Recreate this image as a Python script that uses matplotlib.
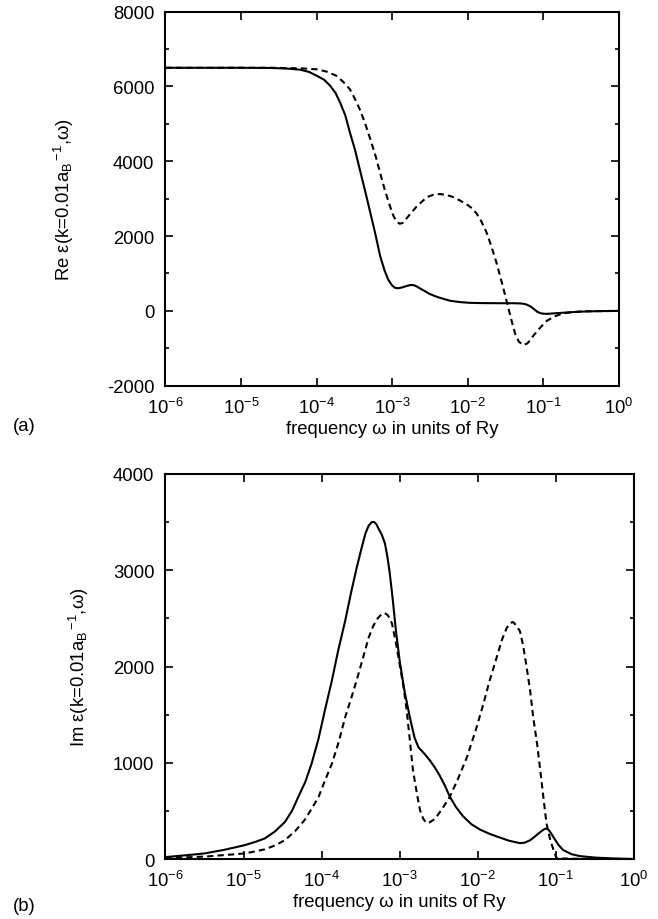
import numpy as np
import matplotlib.pyplot as plt
from matplotlib.ticker import MultipleLocator, LogLocator, NullLocator

plt.rcParams["font.family"] = ["Liberation Sans", "DejaVu Sans"]
plt.rcParams["mathtext.fontset"] = "custom"
plt.rcParams["mathtext.rm"] = "Liberation Sans"
plt.rcParams["mathtext.it"] = "Liberation Sans:italic"
plt.rcParams["axes.unicode_minus"] = False

FS = 13.3

# (a) real part: log10 of frequency (Ry) and Re eps
re_solid_logw = [-6.0, -5.0, -4.6, -4.4, -4.22, -4.1, -4.0, -3.9, -3.82, -3.75,
                 -3.69, -3.62, -3.56, -3.49, -3.43, -3.36, -3.29, -3.22, -3.16, -3.10,
                 -3.05, -3.00, -2.96, -2.92, -2.87, -2.81, -2.76, -2.72, -2.68, -2.63,
                 -2.56, -2.50, -2.40, -2.30, -2.23, -2.10, -1.97, -1.80, -1.60, -1.40,
                 -1.31, -1.26, -1.22, -1.17, -1.13, -1.08, -1.04, -1.00, -0.95, -0.85,
                 -0.74, -0.64, -0.5, -0.3, 0.0]
re_solid = [6500, 6500, 6495, 6480, 6450, 6390, 6290, 6180, 6020, 5830,
            5580, 5230, 4780, 4300, 3800, 3230, 2640, 2040, 1480, 1080,
            830, 680, 615, 605, 625, 665, 690, 690, 660, 600,
            520, 450, 370, 310, 270, 235, 215, 208, 205, 205,
            200, 190, 170, 120, 60, -20, -60, -75, -80, -65,
            -50, -37, -20, -8, 0]

re_dash_logw = [-6.0, -5.0, -4.6, -4.2, -4.0, -3.87, -3.74, -3.65, -3.56, -3.50,
                -3.43, -3.36, -3.29, -3.22, -3.16, -3.10, -3.03, -2.98, -2.94, -2.90,
                -2.86, -2.83, -2.76, -2.68, -2.60, -2.54, -2.46, -2.37, -2.28, -2.20,
                -2.10, -2.00, -1.94, -1.88, -1.82, -1.75, -1.69, -1.62, -1.55, -1.48,
                -1.42, -1.37, -1.32, -1.26, -1.21, -1.17, -1.13, -1.04, -0.95, -0.84,
                -0.73, -0.6, -0.42, 0.0]
re_dash = [6500, 6500, 6500, 6485, 6460, 6400, 6290, 6130, 5930, 5700,
           5400, 5030, 4600, 4150, 3700, 3260, 2810, 2530, 2390, 2330,
           2350, 2420, 2590, 2780, 2930, 3040, 3100, 3125, 3100, 3050,
           2950, 2830, 2740, 2600, 2400, 2100, 1750, 1300, 780, 230,
           -250, -620, -830, -912, -870, -780, -663, -450, -262, -140,
           -64, -30, -10, 0]

# (b) imaginary part
im_solid_logw = [-6.0, -5.75, -5.5, -5.25, -4.98, -4.85, -4.73, -4.60, -4.47, -4.38,
                 -4.30, -4.21, -4.13, -4.04, -3.96, -3.87, -3.79, -3.70, -3.62, -3.55,
                 -3.49, -3.44, -3.40, -3.36, -3.33, -3.30, -3.27, -3.23, -3.19, -3.16,
                 -3.13, -3.09, -3.05, -3.00, -2.94, -2.87, -2.81, -2.76, -2.74, -2.68,
                 -2.61, -2.55, -2.49, -2.42, -2.36, -2.28, -2.19, -2.08, -1.97, -1.86,
                 -1.76, -1.60, -1.46, -1.40, -1.33, -1.26, -1.20, -1.15, -1.12, -1.09,
                 -1.06, -1.03, -0.97, -0.91, -0.80, -0.69, -0.5, -0.27, 0.0]
im_solid = [20, 38, 58, 95, 145, 178, 213, 285, 385, 500,
            644, 800, 988, 1250, 1540, 1850, 2160, 2470, 2780, 3030,
            3226, 3380, 3460, 3500, 3502, 3480, 3430, 3370, 3280, 3150,
            2985, 2700, 2380, 2055, 1750, 1470, 1260, 1160, 1143, 1090,
            1020, 950, 870, 760, 650, 540, 445, 360, 305, 265,
            235, 190, 165, 170, 195, 240, 280, 310, 318, 300,
            265, 225, 150, 95, 50, 30, 15, 6, 0]

im_dash_logw = [-6.0, -5.5, -4.98, -4.73, -4.60, -4.47, -4.34, -4.22, -4.13, -4.04,
                -3.96, -3.87, -3.78, -3.70, -3.61, -3.53, -3.46, -3.40, -3.34, -3.28,
                -3.23, -3.19, -3.15, -3.10, -3.05, -3.00, -2.95, -2.91, -2.87, -2.83,
                -2.78, -2.74, -2.70, -2.66, -2.62, -2.57, -2.53, -2.45, -2.36, -2.25,
                -2.14, -2.03, -1.93, -1.85, -1.76, -1.69, -1.63, -1.59, -1.55, -1.51,
                -1.46, -1.42, -1.38, -1.33, -1.29, -1.24, -1.20, -1.16, -1.12, -1.07,
                -1.03, -0.99, -0.5, 0.0]
im_dash = [10, 25, 58, 100, 140, 196, 290, 403, 520, 644,
           810, 988, 1220, 1470, 1700, 1918, 2120, 2296, 2420, 2503,
           2545, 2555, 2530, 2450, 2250, 2020, 1780, 1540, 1230, 920,
           680, 506, 420, 375, 380, 405, 437, 530, 644, 840,
           1057, 1330, 1607, 1850, 2090, 2280, 2400, 2450, 2462, 2430,
           2366, 2220, 2020, 1750, 1470, 1190, 920, 640, 368, 190,
           93, 6, 0, 0]


def style_axes(ax, ymin, ymax, major, minor):
    ax.set_xscale("log")
    ax.set_xlim(1e-6, 1)
    ax.set_ylim(ymin, ymax)
    ax.xaxis.set_major_locator(LogLocator(base=10, numticks=10))
    ax.xaxis.set_minor_locator(NullLocator())
    ax.yaxis.set_major_locator(MultipleLocator(major))
    ax.yaxis.set_minor_locator(MultipleLocator(minor))
    ax.tick_params(which="both", direction="in", top=True, right=True, labelsize=FS)
    ax.tick_params(which="major", length=6, width=1.2)
    ax.tick_params(which="minor", length=3, width=1.2)
    ax.tick_params(axis="y", pad=8)
    ax.tick_params(axis="x", pad=8)
    for s in ax.spines.values():
        s.set_linewidth(1.5)
    ax.set_xlabel("frequency ω in units of Ry", fontsize=FS, labelpad=2)


fig = plt.figure(figsize=(6.58, 9.2), dpi=100)

ax1 = fig.add_axes([0.2515, 0.5797, 0.6888, 0.4065])
ax1.plot(10.0 ** np.array(re_solid_logw), re_solid, color="black", lw=1.5)
ax1.plot(10.0 ** np.array(re_dash_logw), re_dash, color="black", lw=1.5,
         linestyle=(0, (3, 2)))
style_axes(ax1, -2000, 8000, 2000, 1000)
ax1.set_ylabel("Re ε(k=0.01a$_\\mathrm{B}$$^{\\,\\mathrm{-1}}$,ω)", fontsize=FS)
ax1.yaxis.set_label_coords(-0.198, 0.5)
fig.text(0.02, 0.531, "(a)", fontsize=FS)

ax2 = fig.add_axes([0.2515, 0.0652, 0.712, 0.4185])
ax2.plot(10.0 ** np.array(im_solid_logw), im_solid, color="black", lw=1.5)
ax2.plot(10.0 ** np.array(im_dash_logw), im_dash, color="black", lw=1.5,
         linestyle=(0, (3, 2)))
style_axes(ax2, 0, 4000, 1000, 500)
ax2.set_ylabel("Im ε(k=0.01a$_\\mathrm{B}$$^{\\,\\mathrm{-1}}$,ω)", fontsize=FS)
ax2.yaxis.set_label_coords(-0.159, 0.5)
fig.text(0.02, 0.01, "(b)", fontsize=FS)

fig.savefig("out.png", dpi=100)
